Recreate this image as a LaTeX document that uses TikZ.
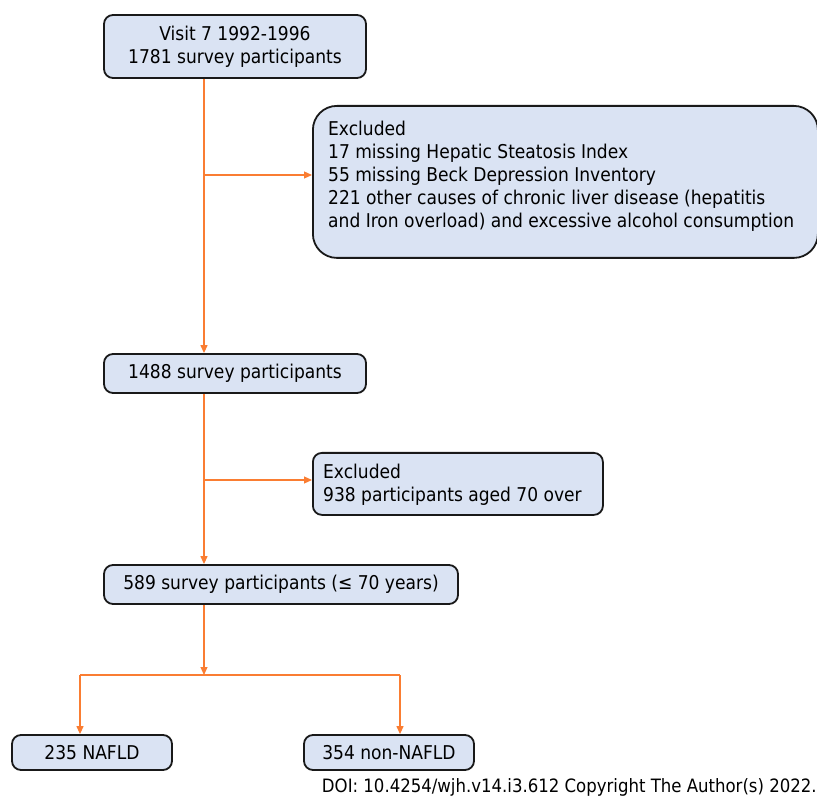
\documentclass[tikz,border=0pt]{standalone}
\usepackage{fontspec}
\setmainfont{DejaVu Sans Condensed}
\usetikzlibrary{arrows.meta,positioning,calc}
\definecolor{boxfill}{RGB}{218,227,243}
\definecolor{boxline}{RGB}{25,25,25}
\definecolor{arrorange}{RGB}{250,125,50}
\tikzset{
  txt/.style={font=\fontsize{19}{23}\selectfont},
  stepbox/.style={draw=boxline, line width=1.8pt, fill=boxfill, rounded corners=9pt, inner sep=0pt, txt},
  exbox/.style={stepbox, rounded corners=24pt},
  conn/.style={draw=arrorange, line width=1.2pt},
  arr/.style={conn, -{Triangle[length=8pt,width=7pt]}},
}
\begin{document}
\begin{tikzpicture}[x=1pt,y=-1pt]
\useasboundingbox (0,0) rectangle (817,799);
% boxes
\node[stepbox, minimum width=262pt, minimum height=63pt, align=center] (b1) at (235,46.5) {Visit 7 1992-1996\\1781 survey participants};
\node[exbox, minimum width=505pt, minimum height=152pt, anchor=north west] (e1) at (312,105) {};
\node[anchor=north west, txt, align=left, inner sep=0pt] (e1t) at (328,121) {Excluded\\17 missing Hepatic Steatosis Index\\55 missing Beck Depression Inventory\\221 other causes of chronic liver disease (hepatitis\\and Iron overload) and excessive alcohol consumption};
\node[stepbox, minimum width=262pt, minimum height=39pt] (b2) at (235,373.5) {1488 survey participants};
\node[stepbox, minimum width=290pt, minimum height=62pt, anchor=north west] (e2) at (312,452) {};
\node[anchor=north west, txt, align=left, inner sep=0pt] (e2t) at (323,464) {Excluded\\938 participants aged 70 over};
\node[stepbox, minimum width=354pt, minimum height=39pt] (b3) at (281,584.5) {589 survey participants (≤ 70 years)};
\node[stepbox, minimum width=160pt, minimum height=35pt] (b4) at (92,752.5) {235 NAFLD};
\node[stepbox, minimum width=170pt, minimum height=35pt] (b5) at (389,752.5) {354 non-NAFLD};
\node[anchor=south east, inner sep=0pt, font=\fontsize{18.4}{20}\selectfont] (doi) at (817,797) {DOI: 10.4254/wjh.v14.i3.612 Copyright The Author(s) 2022.};
% coordinates
\coordinate (j1) at (204,175);
\coordinate (j2) at (204,480);
\coordinate (j3) at (204,675);
\coordinate (l3) at (80,675);
\coordinate (r3) at (400,675);
% connectors
\draw[arr] (b1.south -| j1) -- (b2.north -| j1);
\draw[arr] (j1) -- (e1.west |- j1);
\draw[arr] (b2.south -| j2) -- (b3.north -| j2);
\draw[arr] (j2) -- (e2.west |- j2);
\draw[arr] (b3.south -| j3) -- (j3);
\draw[conn] (l3) -- (r3);
\draw[arr] (l3) -- (b4.north -| l3);
\draw[arr] (r3) -- (b5.north -| r3);
\end{tikzpicture}
\end{document}
